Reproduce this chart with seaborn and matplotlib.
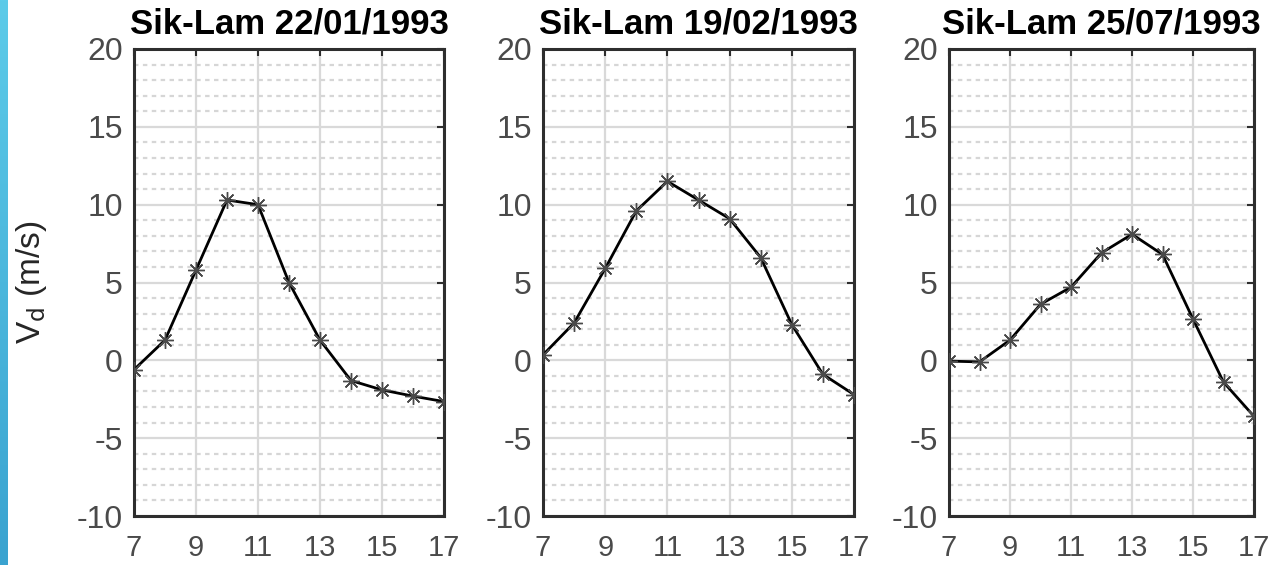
import numpy as np
import pandas as pd
import matplotlib
matplotlib.use("Agg")
import matplotlib.pyplot as plt
from matplotlib.colors import LinearSegmentedColormap
from matplotlib.ticker import MultipleLocator
import seaborn as sns

# Hourly deposition velocity at Sik-Lam on three days
hours = [7, 8, 9, 10, 11, 12, 13, 14, 15, 16, 17]
vd_22jan = [-0.6, 1.3, 5.8, 10.3, 10.0, 5.0, 1.3, -1.3, -1.9, -2.3, -2.65]
vd_19feb = [0.35, 2.4, 5.9, 9.6, 11.5, 10.3, 9.1, 6.6, 2.3, -0.9, -2.2]
vd_25jul = [-0.05, -0.1, 1.3, 3.6, 4.7, 6.9, 8.1, 6.8, 2.65, -1.4, -3.6]
titles = ["Sik-Lam 22/01/1993", "Sik-Lam 19/02/1993", "Sik-Lam 25/07/1993"]
series = [vd_22jan, vd_19feb, vd_25jul]
x_ticks = [7, 9, 11, 13, 15, 17]
y_ticks = [-10, -5, 0, 5, 10, 15, 20]

sns.set_theme(style="white")
plt.rcParams["font.family"] = ["Liberation Sans", "DejaVu Sans"]
plt.rcParams["axes.unicode_minus"] = False

fig = plt.figure(figsize=(12.74, 5.65), dpi=100)
fig.patch.set_facecolor("white")

# Blue side strip along the left edge
strip = fig.add_axes([0, 0, 7 / 1274, 1])
grad = np.linspace(0, 1, 256).reshape(-1, 1)
cmap = LinearSegmentedColormap.from_list("strip", ["#5ccbe9", "#3aa3d0"])
strip.imshow(grad, aspect="auto", cmap=cmap, extent=[0, 1, 0, 1], origin="upper")
strip.set_axis_off()

lefts = [134 / 1274, 543 / 1274, 949 / 1274]
widths = [310 / 1274, 311 / 1274, 305 / 1274]
bottom = 1 - 516 / 565
height = (516 - 49) / 565

spine_col = "#2e2e2e"
tick_col = "#4a4a4a"

for i, (vals, title) in enumerate(zip(series, titles)):
    ax = fig.add_axes([lefts[i], bottom, widths[i], height])
    df = pd.DataFrame({"hour": hours, "vd": vals})
    sns.lineplot(data=df, x="hour", y="vd", ax=ax, color="black", linewidth=2.0,
                 marker=(8, 2, 0), markersize=12, markeredgewidth=1.0,
                 markeredgecolor="#4a4a4a", markerfacecolor="none", zorder=5)
    ax.set_xlim(7, 17)
    ax.set_ylim(-10, 20)
    ax.set_xticks(x_ticks)
    ax.set_yticks(y_ticks)
    ax.yaxis.set_minor_locator(MultipleLocator(1))
    ax.set_facecolor("white")

    # Major grid solid, minor horizontal grid dashed
    ax.grid(True, which="major", color="#d9d9d9", linewidth=1.6, linestyle="-")
    ax.grid(True, which="minor", axis="y", color="#d6d6d6", linewidth=1.6,
            linestyle=(0, (2.0, 2.0)))
    ax.grid(False, which="minor", axis="x")
    ax.set_axisbelow(True)

    for s in ax.spines.values():
        s.set_visible(True)
        s.set_color(spine_col)
        s.set_linewidth(2.2)

    ax.tick_params(axis="both", which="major", direction="in", length=5, width=1.5,
                   color=spine_col, top=True, right=True, labelsize=23,
                   labelcolor=tick_col)
    ax.tick_params(axis="x", which="major", labelsize=21, pad=13)
    ax.tick_params(axis="y", which="major", pad=8)
    ax.tick_params(axis="both", which="minor", length=0)

    ax.set_xlabel("")
    ax.set_ylabel("")
    ax.set_title(title, fontsize=25, fontweight="bold", color="black", pad=11)

    if i == 0:
        ax.set_ylabel(r"V$_\mathrm{d}$ (m/s)", fontsize=24, color="#262626", labelpad=20)

fig.savefig("out.png", dpi=100, facecolor="white")
